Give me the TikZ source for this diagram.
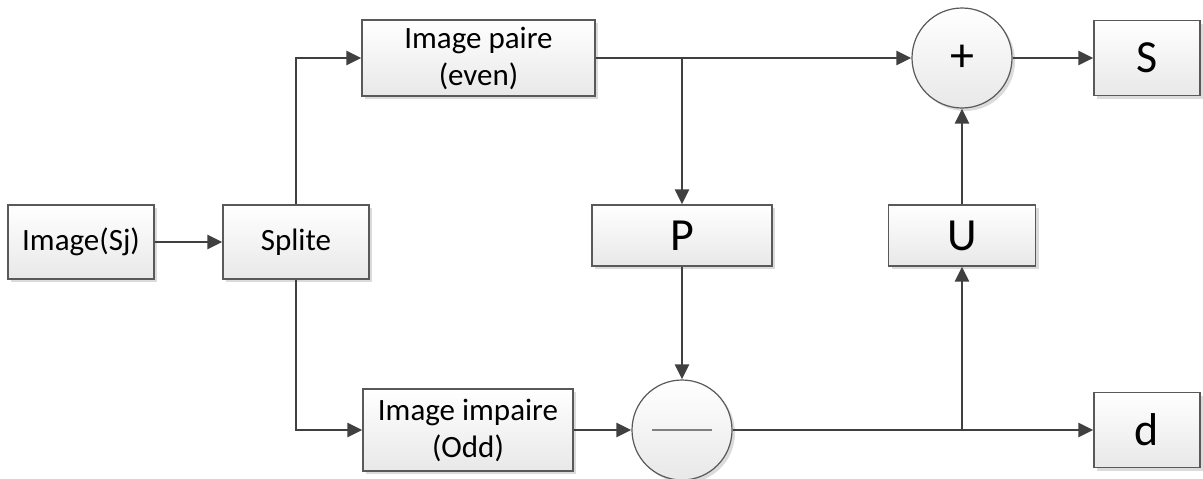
\documentclass[tikz,border=0pt]{standalone}
\usepackage{fontspec}
\setmainfont{Carlito}
\usetikzlibrary{arrows.meta,shadows}
\definecolor{wire}{HTML}{404040}
\definecolor{rim}{HTML}{595959}
\begin{document}
\begin{tikzpicture}[x=1pt,y=-1pt,
  blockbase/.style={draw=rim, line width=1.2pt, top color=white, bottom color=black!9,
    drop shadow={shadow xshift=3pt, shadow yshift=-3pt, fill=black!14, opacity=1},
    inner sep=0pt, align=center},
  block/.style={blockbase, rectangle, font=\fontsize{31}{37}\selectfont},
  bigblock/.style={blockbase, rectangle, font=\fontsize{46}{50}\selectfont},
  sumnode/.style={blockbase, circle, minimum size=100pt, font=\fontsize{48}{50}\selectfont},
  wireline/.style={draw=wire, line width=2.8pt},
  flow/.style={wireline, -{Triangle[length=15pt,width=14pt]}}
]
\useasboundingbox (0,0) rectangle (1203,479);

% blocks
\node[block, minimum width=146pt, minimum height=74pt] (img) at (81,242) {Image(Sj)};
\node[block, minimum width=146pt, minimum height=74pt] (split) at (296,242) {Splite};
\node[block, minimum width=233pt, minimum height=76pt] (even) at (478.5,58) {Image paire\\(even)};
\node[block, minimum width=210pt, minimum height=82pt] (odd) at (468,430) {Image impaire\\(Odd)};
\node[bigblock, minimum width=180pt, minimum height=61pt] (pred) at (682,235.5) {P};
\node[bigblock, minimum width=147pt, minimum height=61pt] (upd) at (962,235.5) {U};
\node[bigblock, minimum width=106pt, minimum height=75pt] (sout) at (1147,58) {S};
\node[bigblock, minimum width=106pt, minimum height=75pt] (dout) at (1147,430) {d};

% summing junctions
\node[sumnode] (plus) at (962,58) {+};
\node[sumnode] (minus) at (682,430) {};
\draw[draw=black!50, line width=1.4pt] ([xshift=-30pt]minus.center) -- ([xshift=30pt]minus.center);

% branch points
\coordinate (jeven) at (682,58);
\coordinate (jdiff) at (962,430);

% connectors
\draw[flow] (img.east) -- (split.west);
\draw[flow] (split.north) |- (even.west);
\draw[flow] (split.south) |- (odd.west);
\draw[flow] (odd.east) -- (minus.west);
\draw[wireline] (even.east) -- (jeven);
\draw[flow] (jeven) -- (plus.west);
\draw[flow] (jeven) -- (pred.north);
\draw[flow] (pred.south) -- (minus.north);
\draw[flow] (minus.east) -- (dout.west);
\draw[flow] (jdiff) -- (upd.south);
\draw[flow] (upd.north) -- (plus.south);
\draw[flow] (plus.east) -- (sout.west);
\end{tikzpicture}
\end{document}
